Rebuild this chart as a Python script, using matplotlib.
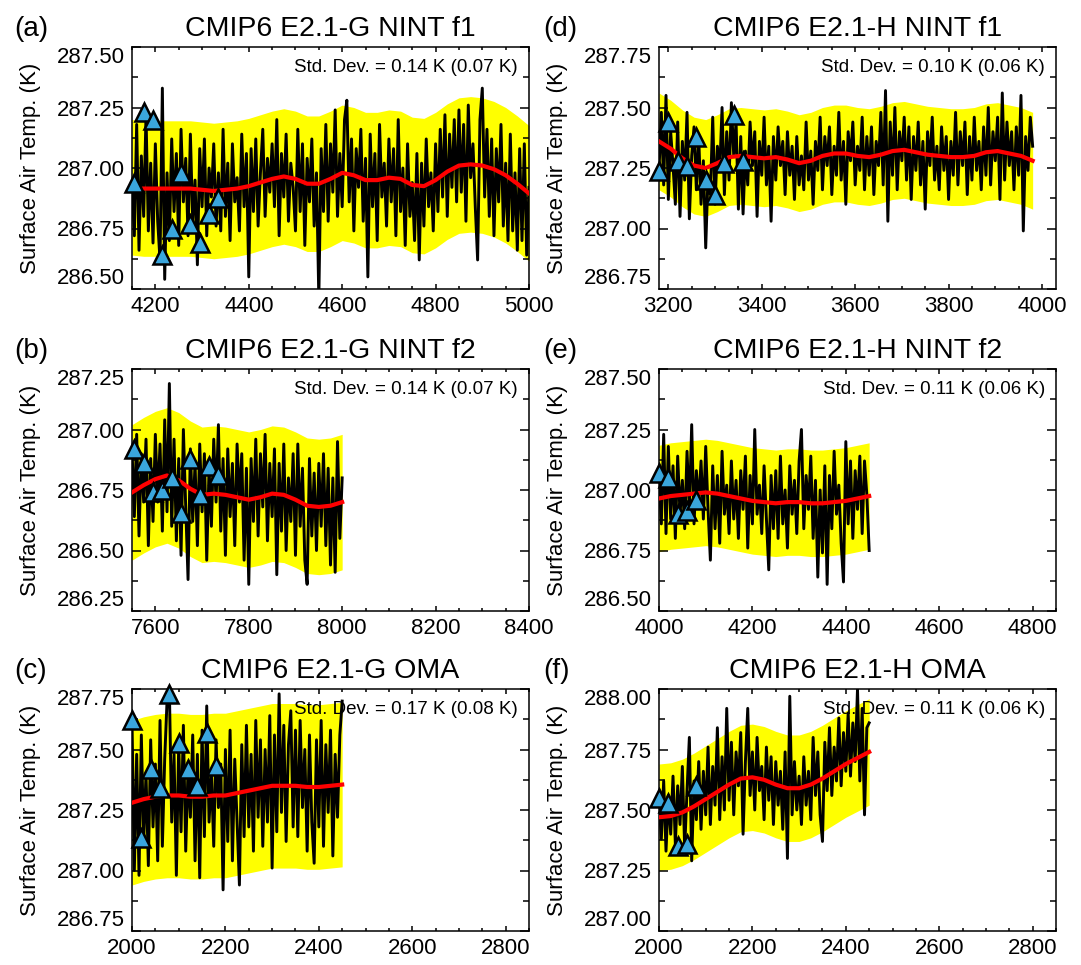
import numpy as np
import matplotlib.pyplot as plt
from matplotlib.ticker import MultipleLocator, FormatStrFormatter

plt.rcParams['font.family'] = ['Liberation Sans', 'DejaVu Sans']

# ---- annual series, sampled every 5 years ----
a_start, a_temp = 4150, [
    286.94, 286.72, 287.18, 286.66, 287.05, 286.80, 287.22, 286.74, 287.02, 286.69,
    287.10, 286.78, 286.62, 287.33, 286.54, 286.98, 286.70, 287.12, 286.82, 287.06,
    286.68, 287.16, 286.86, 287.04, 286.72, 287.14, 286.78, 286.95, 286.60, 287.08,
    286.84, 287.12, 286.72, 287.00, 286.88, 287.10, 286.76, 286.98, 286.74, 287.16,
    286.80, 287.02, 286.70, 287.10, 286.86, 286.96, 286.74, 287.14, 286.84, 287.06,
    286.55, 287.08, 286.82, 287.12, 286.76, 286.98, 287.16, 286.80, 287.04, 286.90,
    287.10, 286.84, 287.20, 286.72, 287.06, 286.88, 287.14, 286.78, 287.02, 286.92,
    286.74, 287.16, 286.82, 287.10, 286.68, 287.04, 286.86, 287.12, 286.76, 286.98,
    286.46, 287.08, 286.82, 287.18, 286.78, 287.10, 286.90, 287.24, 286.80, 287.06,
    286.84, 287.20, 287.28, 286.86, 287.12, 286.74, 287.08, 286.92, 287.16, 286.78,
    287.04, 286.55, 287.14, 286.84, 287.06, 286.70, 287.18, 286.88, 287.02, 286.76,
    287.12, 286.86, 287.08, 286.72, 287.20, 286.82, 287.00, 286.68, 287.10, 286.80,
    286.94, 286.70, 287.06, 286.62, 287.02, 286.76, 287.12, 286.84, 286.98, 286.74,
    287.10, 286.82, 287.16, 286.88, 287.22, 286.80, 287.14, 286.92, 287.20, 286.86,
    287.24, 286.90, 287.18, 286.78, 287.26, 286.96, 287.10, 286.84, 286.62, 287.20,
    287.33, 286.88, 287.16, 286.80, 287.12, 286.72, 287.08, 286.86, 287.18, 286.76,
    287.02, 286.70, 287.14, 286.74, 286.98, 286.66, 287.08, 286.70, 287.10, 286.64,
    286.92]

b_start, b_temp = 7550, [
    286.92, 286.64, 286.98, 286.56, 286.90, 286.70, 286.96, 286.52, 286.88, 286.62,
    286.98, 286.70, 286.94, 286.58, 287.04, 286.66, 287.19, 286.60, 286.96, 286.54,
    286.88, 286.48, 287.00, 286.68, 286.38, 286.92, 286.62, 286.86, 286.52, 286.94,
    286.66, 286.90, 286.46, 286.84, 286.60, 286.96, 286.70, 287.02, 286.58, 286.88,
    286.48, 286.92, 286.64, 286.86, 286.52, 286.94, 286.70, 286.90, 286.46, 286.84,
    286.36, 286.88, 286.62, 286.96, 286.56, 286.90, 286.68, 286.98, 286.54, 286.86,
    286.64, 286.92, 286.40, 286.86, 286.58, 286.94, 286.50, 286.80, 286.62, 286.90,
    286.48, 286.94, 286.60, 286.84, 286.46, 286.36, 286.88, 286.56, 286.82, 286.50,
    286.86, 286.60, 286.90, 286.52, 286.84, 286.44, 286.80, 286.41, 286.95, 286.55,
    286.80]

c_start, c_temp = 2000, [
    287.62, 287.00, 287.48, 286.98, 287.56, 287.12, 287.40, 287.02, 287.54, 287.18,
    287.44, 287.04, 287.62, 287.10, 287.46, 287.70, 287.75, 287.20, 287.48, 286.98,
    287.52, 287.16, 287.60, 287.08, 287.42, 287.22, 287.56, 287.04, 287.48, 286.97,
    287.58, 287.14, 287.68, 287.20, 287.40, 287.10, 287.54, 287.26, 287.44, 286.92,
    287.50, 287.12, 287.58, 287.04, 287.46, 287.20, 286.94, 287.52, 287.14, 287.60,
    287.18, 287.48, 287.08, 287.62, 287.22, 287.54, 287.10, 287.50, 287.20, 287.64,
    287.01, 287.56, 287.16, 287.73, 287.24, 287.60, 287.12, 287.52, 287.66, 287.18,
    287.58, 287.14, 287.62, 287.26, 287.50, 287.08, 287.56, 287.20, 287.03, 287.54,
    287.18, 287.62, 287.10, 287.52, 287.24, 287.58, 287.06, 287.48, 287.22, 287.56,
    287.70]

d_start, d_temp = 3180, [
    287.24, 287.48, 287.18, 287.55, 287.12, 287.40, 287.26, 287.10, 287.44, 287.05,
    287.36, 287.20, 287.48, 287.04, 287.30, 287.42, 287.16, 287.38, 287.10, 287.28,
    286.92, 287.22, 287.14, 287.46, 287.10, 287.34, 287.24, 287.50, 287.14, 287.40,
    287.20, 287.52, 287.30, 287.44, 287.08, 287.38, 287.06, 287.32, 287.18, 287.44,
    287.26, 287.40, 287.05, 287.36, 287.22, 287.46, 287.18, 287.34, 287.03, 287.38,
    287.20, 287.42, 287.26, 287.36, 287.14, 287.40, 287.22, 287.34, 287.12, 287.38,
    287.18, 287.30, 287.16, 287.44, 287.20, 287.32, 287.10, 287.36, 287.24, 287.46,
    287.16, 287.38, 287.26, 287.42, 287.14, 287.34, 287.22, 287.48, 287.20, 287.36,
    287.10, 287.40, 287.28, 287.44, 287.18, 287.34, 287.24, 287.46, 287.16, 287.38,
    287.22, 287.42, 287.14, 287.36, 287.26, 287.48, 287.18, 287.57, 287.03, 287.44,
    287.22, 287.50, 287.16, 287.40, 287.28, 287.46, 287.20, 287.42, 287.12, 287.38,
    287.24, 287.44, 287.18, 287.36, 287.08, 287.40, 287.26, 287.46, 287.20, 287.34,
    287.16, 287.42, 287.24, 287.38, 287.12, 287.36, 287.22, 287.48, 287.18, 287.40,
    287.26, 287.44, 287.14, 287.38, 287.20, 287.46, 287.24, 287.36, 287.16, 287.42,
    287.22, 287.50, 287.18, 287.40, 287.28, 287.46, 287.12, 287.56, 287.20, 287.44,
    287.26, 287.40, 287.16, 287.42, 287.22, 287.55, 286.99, 287.38, 287.24, 287.46,
    287.34]

e_start, e_temp = 4000, [
    287.06, 286.86, 287.23, 286.82, 287.18, 286.88, 287.10, 286.80, 287.14, 286.90,
    287.04, 286.84, 287.16, 286.92, 287.27, 286.86, 287.08, 286.94, 287.12, 286.88,
    287.18, 286.92, 286.71, 287.10, 286.84, 287.06, 286.78, 287.16, 286.90, 287.02,
    286.82, 287.12, 286.88, 287.04, 286.80, 287.08, 286.92, 287.14, 286.76, 287.06,
    286.86, 287.25, 286.90, 287.02, 286.82, 287.10, 286.88, 286.67, 287.06, 286.84,
    287.08, 286.80, 287.14, 286.86, 287.00, 286.76, 287.10, 286.90, 287.04, 286.82,
    287.12, 287.25, 286.84, 287.06, 286.92, 287.14, 286.80, 287.04, 286.64, 287.00,
    286.74, 287.10, 286.61, 287.06, 286.84, 287.16, 286.90, 287.02, 286.78, 286.62,
    287.20, 286.86, 287.12, 286.80, 287.08, 286.92, 287.14, 286.82, 287.12, 286.98,
    286.75]

f_start, f_temp = 2000, [
    287.54, 287.38, 287.62, 287.33, 287.56, 287.40, 287.64, 287.36, 287.60, 287.44,
    287.68, 287.34, 287.58, 287.80, 287.29, 287.62, 287.46, 287.70, 287.42, 287.66,
    287.48, 287.76, 287.44, 287.68, 287.52, 287.84, 287.46, 287.72, 287.50, 287.92,
    287.54, 287.78, 287.48, 287.74, 287.60, 287.82, 287.40, 287.70, 287.92, 287.56,
    287.74, 287.50, 287.80, 287.58, 287.68, 287.46, 287.76, 287.54, 287.72, 287.44,
    287.70, 287.52, 287.66, 287.42, 287.74, 287.30, 287.97, 287.48, 287.70, 287.50,
    287.64, 287.44, 287.72, 287.52, 287.66, 287.46, 287.80, 287.56, 287.74, 287.48,
    287.37, 287.78, 287.58, 287.84, 287.56, 287.76, 287.62, 287.88, 287.60, 287.82,
    287.66, 287.90, 287.64, 287.86, 287.70, 288.00, 287.62, 287.92, 287.48, 287.84,
    287.86]

# ---- smoothed curves, every 25 years ----
a_smooth = [286.92, 286.915, 286.915, 286.915, 286.915, 286.915, 286.91, 286.905, 286.91, 286.915,
            286.925, 286.94, 286.955, 286.965, 286.955, 286.935, 286.935, 286.955, 286.98, 286.97,
            286.95, 286.95, 286.96, 286.955, 286.93, 286.925, 286.95, 286.985, 287.01, 287.015,
            287.01, 286.995, 286.97, 286.935, 286.895]
b_smooth = [286.74, 286.77, 286.795, 286.81, 286.79, 286.755, 286.73, 286.735, 286.73, 286.72,
            286.71, 286.72, 286.735, 286.73, 286.71, 286.685, 286.68, 286.685, 286.70]
c_smooth = [287.28, 287.295, 287.305, 287.31, 287.31, 287.305, 287.305, 287.31, 287.31, 287.32,
            287.33, 287.34, 287.35, 287.35, 287.35, 287.345, 287.345, 287.35, 287.355]
d_smooth = [287.36, 287.33, 287.29, 287.26, 287.25, 287.27, 287.295, 287.30, 287.295, 287.29,
            287.295, 287.285, 287.27, 287.28, 287.30, 287.31, 287.31, 287.30, 287.295, 287.305,
            287.32, 287.325, 287.315, 287.305, 287.30, 287.295, 287.295, 287.30, 287.315, 287.32,
            287.31, 287.30, 287.28]
e_smooth = [286.965, 286.975, 286.98, 286.985, 286.99, 286.985, 286.975, 286.965, 286.955, 286.95,
            286.945, 286.95, 286.95, 286.945, 286.945, 286.95, 286.955, 286.965, 286.975]
f_smooth = [287.47, 287.475, 287.49, 287.515, 287.545, 287.575, 287.605, 287.63, 287.635, 287.625,
            287.605, 287.59, 287.59, 287.605, 287.63, 287.66, 287.69, 287.715, 287.74]

# ---- 20-year markers ----
a_tri_start, a_tri = 4155, [286.94, 287.23, 287.20, 286.64, 286.75, 286.98, 286.77, 286.69, 286.81, 286.875]
b_tri_start, b_tri = 7555, [286.92, 286.86, 286.74, 286.75, 286.80, 286.655, 286.88, 286.73, 286.85, 286.81]
c_tri_start, c_tri = 2000, [287.62, 287.135, 287.42, 287.34, 287.73, 287.525, 287.42, 287.35, 287.57, 287.43]
d_tri_start, d_tri = 3180, [287.236, 287.44, 287.28, 287.26, 287.38, 287.20, 287.14, 287.27, 287.47, 287.28]
e_tri_start, e_tri = 4000, [287.07, 287.05, 286.90, 286.915, 286.96]
f_tri_start, f_tri = 2000, [287.55, 287.53, 287.35, 287.36, 287.60]

# std dev of annual values (and of the smoothed/20-yr values)
std_dev = {'a': (0.14, 0.07), 'b': (0.14, 0.07), 'c': (0.17, 0.08),
           'd': (0.10, 0.06), 'e': (0.11, 0.06), 'f': (0.11, 0.06)}
titles = {'a': 'CMIP6 E2.1-G NINT f1', 'b': 'CMIP6 E2.1-G NINT f2', 'c': 'CMIP6 E2.1-G OMA',
          'd': 'CMIP6 E2.1-H NINT f1', 'e': 'CMIP6 E2.1-H NINT f2', 'f': 'CMIP6 E2.1-H OMA'}
y_low = {'a': 286.50, 'b': 286.25, 'c': 286.75, 'd': 286.75, 'e': 286.50, 'f': 287.00}
red_from = {'a': 4175}

panels = {
    'a': (a_start, a_temp, a_smooth, a_tri_start, a_tri),
    'b': (b_start, b_temp, b_smooth, b_tri_start, b_tri),
    'c': (c_start, c_temp, c_smooth, c_tri_start, c_tri),
    'd': (d_start, d_temp, d_smooth, d_tri_start, d_tri),
    'e': (e_start, e_temp, e_smooth, e_tri_start, e_tri),
    'f': (f_start, f_temp, f_smooth, f_tri_start, f_tri),
}

W, H = 1081, 965
fig = plt.figure(figsize=(W / 100, H / 100), dpi=100)

col_left = [132, 659]
row_top = [47, 369, 689]
ax_w, ax_h = 397, 242
letter_x = [14, 543]

for key, (start, temp, smooth, tri_start, tri) in panels.items():
    idx = 'abcdef'.index(key)
    col, row = idx // 3, idx % 3
    x0, top = col_left[col], row_top[row]
    ax = fig.add_axes([x0 / W, 1 - (top + ax_h) / H, ax_w / W, ax_h / H])

    years = start + 5 * np.arange(len(temp))
    s_years = start + 25 * np.arange(len(smooth))
    t_years = tri_start + 20 * np.arange(len(tri))
    smooth = np.array(smooth)
    sd, sd2 = std_dev[key]

    ax.fill_between(s_years, smooth - 2 * sd, smooth + 2 * sd, color='#ffff00', lw=0, zorder=1)
    ax.plot(years, temp, color='black', lw=2.1, zorder=3)
    m = s_years >= red_from.get(key, start)
    ax.plot(s_years[m], smooth[m], color='#ff0000', lw=3.0, zorder=4)
    ax.plot(t_years, tri, '^', ms=13.5, mfc='#3aa6dd', mec='black', mew=1.8,
            zorder=5, clip_on=False)

    ax.text(0.972, 0.897, f'Std. Dev. = {sd:.2f} K ({sd2:.2f} K)', transform=ax.transAxes,
            ha='right', va='baseline', fontsize=13.5, zorder=2)

    lo = y_low[key]
    ax.set_xlim(start, start + 850)
    ax.set_ylim(lo, lo + 1.0)
    ax.xaxis.set_major_locator(MultipleLocator(200))
    ax.xaxis.set_minor_locator(MultipleLocator(50))
    ax.set_yticks(lo + 0.25 * np.arange(5))
    ax.yaxis.set_minor_locator(MultipleLocator(0.125))
    ax.yaxis.set_major_formatter(FormatStrFormatter('%.2f'))
    ax.tick_params(which='both', direction='in', top=True, right=True, labelsize=16, width=1.1)
    ax.tick_params(axis='x', which='major', length=3.4, pad=5)
    ax.tick_params(axis='x', which='minor', length=2)
    ax.tick_params(axis='y', which='major', length=6.5, pad=5)
    ax.tick_params(axis='y', which='minor', length=4)
    for sp in ax.spines.values():
        sp.set_linewidth(1.1)

    # end labels pulled inside the axis range
    yt = ax.yaxis.get_major_ticks()
    yt[0].label1.set_va('bottom')
    yt[-1].label1.set_va('top')

    ax.set_title(titles[key], fontsize=20.5, pad=8)
    ax.set_ylabel('Surface Air Temp. (K)', fontsize=16)
    ax.yaxis.set_label_coords(-0.228, 0.5)
    fig.text(letter_x[col] / W, 1 - (top - 11) / H, f'({key})', fontsize=20, va='baseline')

fig.savefig('out.png', dpi=100)
